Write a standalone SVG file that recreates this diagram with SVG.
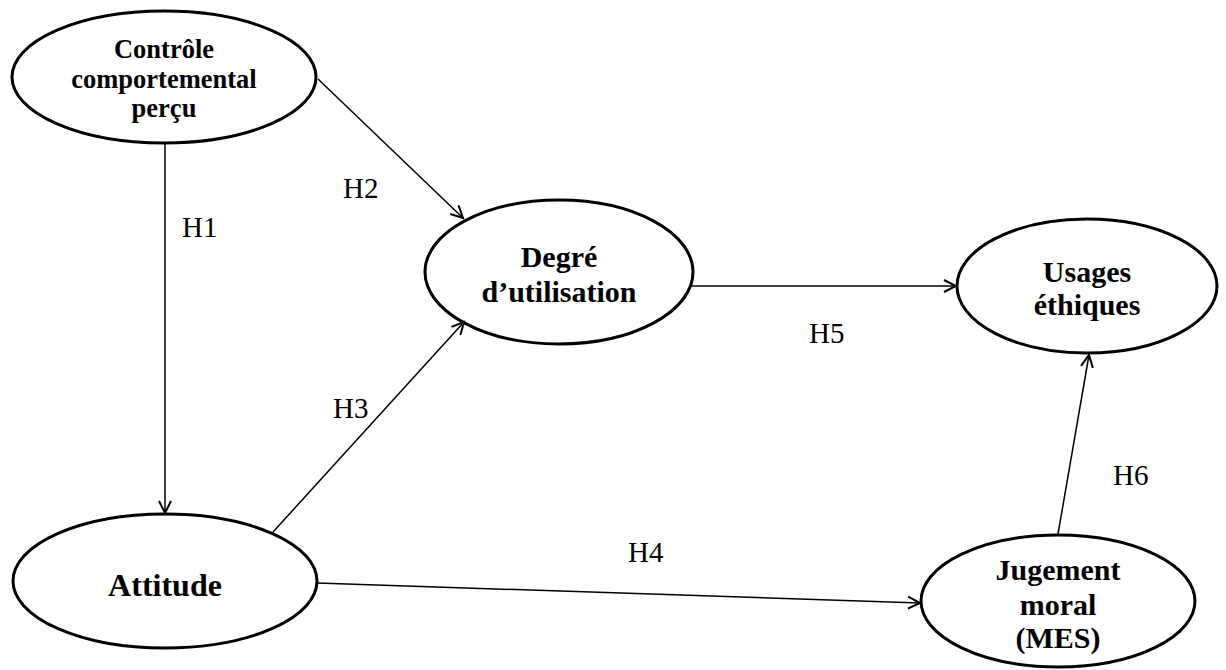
<svg xmlns="http://www.w3.org/2000/svg" width="1226" height="670" viewBox="0 0 1226 670">
<style>
.node ellipse{fill:#fff;stroke:#000;stroke-width:3}
.t{font-family:"Liberation Serif","Times New Roman",serif;font-weight:bold;fill:#000;text-anchor:middle}
.lbl{font-family:"Liberation Serif","Times New Roman",serif;font-size:29px;fill:#000}
.edge{stroke:#000;stroke-width:1.5;fill:none;marker-end:url(#arr)}
</style>
<defs>
<marker id="arr" markerUnits="userSpaceOnUse" markerWidth="16" markerHeight="16" viewBox="0 0 16 16" refX="14" refY="8" orient="auto">
<path d="M2,2 L14,8 L2,14" fill="none" stroke="#000" stroke-width="2"/>
</marker>
</defs>
<rect width="1226" height="670" fill="#fff"/>
<g id="controle" class="node">
<ellipse cx="164" cy="77" rx="152" ry="66"/>
<text class="t" font-size="26.5" x="164" y="58">Contrôle</text>
<text class="t" font-size="26.5" x="164" y="88">comportemental</text>
<text class="t" font-size="26.5" x="164" y="117">perçu</text>
</g>
<g id="attitude" class="node">
<ellipse cx="165" cy="581" rx="152" ry="67"/>
<text class="t" font-size="32" x="165" y="596">Attitude</text>
</g>
<g id="degre" class="node">
<ellipse cx="559" cy="272" rx="134" ry="72"/>
<text class="t" font-size="30" x="559" y="267">Degré</text>
<text class="t" font-size="30" x="559" y="302">d’utilisation</text>
</g>
<g id="usages" class="node">
<ellipse cx="1087" cy="286" rx="130" ry="67"/>
<text class="t" font-size="30" x="1087" y="282">Usages</text>
<text class="t" font-size="30" x="1087" y="315">éthiques</text>
</g>
<g id="jugement" class="node">
<ellipse cx="1058" cy="601" rx="137" ry="66"/>
<text class="t" font-size="30" x="1058" y="580">Jugement</text>
<text class="t" font-size="30" x="1058" y="615">moral</text>
<text class="t" font-size="30" x="1058" y="648">(MES)</text>
</g>
<g id="connectors">
<line class="edge" x1="165" y1="143" x2="165" y2="513"/>
<line class="edge" x1="318" y1="79" x2="463" y2="218"/>
<line class="edge" x1="273" y1="532" x2="464" y2="322"/>
<line class="edge" x1="317" y1="583" x2="920" y2="603"/>
<line class="edge" x1="692" y1="286" x2="956" y2="286"/>
<line class="edge" x1="1058" y1="534" x2="1089" y2="355"/>
</g>
<g id="labels">
<text class="lbl" x="182" y="237">H1</text>
<text class="lbl" x="343" y="198">H2</text>
<text class="lbl" x="333" y="418">H3</text>
<text class="lbl" x="628" y="562">H4</text>
<text class="lbl" x="809" y="343">H5</text>
<text class="lbl" x="1113" y="485">H6</text>
</g>
</svg>
